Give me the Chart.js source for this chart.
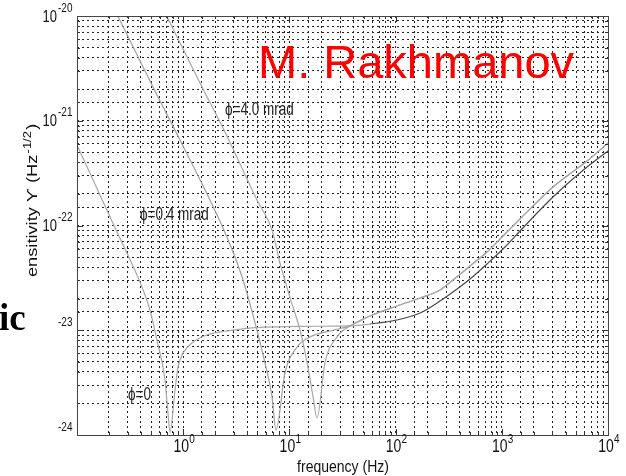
<!DOCTYPE html>
<html><head><meta charset="utf-8">
<script src="https://cdn.jsdelivr.net/npm/chart.js@4/dist/chart.umd.min.js"></script>
<style>html,body{margin:0;padding:0;background:#fff;overflow:hidden}</style>
</head><body>
<canvas id="c" width="626" height="476"></canvas>
<script>
// ---- data (frequency in Hz, sensitivity in Hz^-1/2) ----
const freqPhi0 = [0.1, 0.233, 0.409, 0.486, 0.566, 0.674, 0.719, 0.751, 0.838, 0.894, 1.0, 1.24, 1.67, 2.58, 4.25, 12.6, 37.2, 57.4, 103, 170, 262, 347, 502, 725, 1072, 1484, 3034, 6343, 10000];
const valPhi0  = [5.86e-22, 9.06e-23, 2.59e-23, 1.56e-23, 8.07e-24, 3.35e-24, 1.62e-24, 1.07e-24, 2.69e-24, 4.46e-24, 6.07e-24, 7.73e-24, 9.01e-24, 9.84e-24, 1.05e-23, 1.09e-23, 1.10e-23, 1.147e-23, 1.253e-23, 1.461e-23, 1.902e-23, 2.318e-23, 3.085e-23, 4.29e-23, 6.23e-23, 8.86e-23, 1.871e-22, 3.618e-22, 5.143e-22];

const freqPhi04 = [0.196, 0.542, 0.933, 2.58, 3.66, 4.95, 5.89, 6.86, 7.48, 9.09, 11.8, 15.6, 25.7, 37.2, 57.4, 103, 170, 262, 347, 502, 725, 1072, 1484, 3034, 6343, 10000];
const valPhi04  = [1.55e-20, 1.92e-21, 6.55e-22, 7.76e-23, 3.02e-23, 1.00e-23, 4.86e-24, 2.31e-24, 1.12e-24, 3.91e-24, 6.92e-24, 8.63e-24, 1.00e-23, 1.10e-23, 1.368e-23, 1.704e-23, 2.032e-23, 2.422e-23, 3.018e-23, 4.105e-23, 5.585e-23, 8.30e-23, 1.153e-22, 2.33e-22, 4.127e-22, 6.13e-22];

const freqPhi4 = [0.566, 1.44, 2.58, 4.95, 6.86, 8.15, 10.1, 12.6, 14.7, 16.7, 18.2, 21.6, 28.1, 37.2, 57.4, 103, 170, 262, 347, 502, 725, 1072, 1484, 3034, 6343, 10000];
const valPhi4  = [1.55e-20, 2.29e-21, 7.15e-22, 1.75e-22, 9.06e-23, 4.39e-23, 2.07e-23, 1.00e-23, 4.86e-24, 2.31e-24, 1.45e-24, 4.86e-24, 8.63e-24, 1.10e-23, 1.368e-23, 1.704e-23, 2.032e-23, 2.422e-23, 3.018e-23, 4.105e-23, 5.585e-23, 8.30e-23, 1.153e-22, 2.33e-22, 4.127e-22, 6.13e-22];

const xDecades = [1, 10, 100, 1000, 10000];
const xDecadeExp = ['0', '1', '2', '3', '4'];
const yDecades = [1e-20, 1e-21, 1e-22, 1e-23, 1e-24];
const yDecadeExp = ['-20', '-21', '-22', '-23', '-24'];
const yShowBase = [true, true, true, false, false];

const curveLabels = ['\u03D5=4.0 mrad', '\u03D5=0.4 mrad', '\u03D5=0'];
const curveLabelX = [2.48, 0.392, 0.302];
const curveLabelY = [1.27e-21, 1.26e-22, 2.41e-24];

const xTitle = 'frequency (Hz)';
const yTitleMain = 'ensitivity \u03D2 (Hz';
const yTitleSup = '-1/2';
const authorText = 'M. Rakhmanov';
const sideText = 'ic';

const pts = (fs, vs) => fs.map((f, i) => ({x: f, y: vs[i]}));

function isDecade(v) {
  const l = Math.log10(v);
  return Math.abs(l - Math.round(l)) < 1e-6;
}

function txt(ctx, s, x, y, font, opts) {
  opts = opts || {};
  ctx.save();
  ctx.translate(x, y);
  if (opts.rot) ctx.rotate(opts.rot);
  ctx.scale(opts.sx || 1, opts.sy || 1);
  ctx.font = font;
  ctx.textAlign = opts.align || 'left';
  ctx.textBaseline = opts.base || 'middle';
  ctx.fillStyle = opts.color || '#111';
  ctx.fillText(s, 0, 0);
  const w = ctx.measureText(s).width * (opts.sx || 1);
  ctx.restore();
  return w;
}

const SY = 1.3;
const FF = '"Liberation Sans", Arial, sans-serif';

const decor = {
  id: 'decor',
  afterDraw(chart) {
    const {ctx, chartArea: a, scales: {x, y}} = chart;
    ctx.save();
    // inner tick marks
    ctx.strokeStyle = '#333';
    ctx.lineWidth = 1;
    ctx.setLineDash([]);
    ctx.beginPath();
    x.ticks.forEach(t => {
      const px = Math.round(x.getPixelForValue(t.value)) + 0.5;
      const L = isDecade(t.value) ? 6 : 3;
      ctx.moveTo(px, a.bottom); ctx.lineTo(px, a.bottom - L);
      ctx.moveTo(px, a.top); ctx.lineTo(px, a.top + L);
    });
    y.ticks.forEach(t => {
      const py = Math.round(y.getPixelForValue(t.value)) + 0.5;
      const L = isDecade(t.value) ? 6 : 3;
      ctx.moveTo(a.left, py); ctx.lineTo(a.left + L, py);
      ctx.moveTo(a.right, py); ctx.lineTo(a.right - L, py);
    });
    ctx.stroke();
    // box
    ctx.strokeStyle = '#444';
    ctx.strokeRect(Math.round(a.left) + 0.5, Math.round(a.top) + 0.5, Math.round(a.right - a.left), Math.round(a.bottom - a.top));

    // x tick labels
    xDecades.forEach((v, i) => {
      const px = x.getPixelForValue(v);
      txt(ctx, '10', px - 2, 447, '14px ' + FF, {align: 'center', sy: SY});
      txt(ctx, xDecadeExp[i], px + 6, 439, '10px ' + FF, {sy: SY});
    });
    // y tick labels
    yDecades.forEach((v, i) => {
      const py = y.getPixelForValue(v);
      if (yShowBase[i]) txt(ctx, '10', 57, py + 1, '13px ' + FF, {align: 'right', sy: SY});
      txt(ctx, yDecadeExp[i], 58, py - 8, '10px ' + FF, {sy: SY});
    });
    // axis titles
    txt(ctx, xTitle, 343, 467, '14px ' + FF, {align: 'center', sy: 1.2});
    ctx.save();
    ctx.translate(33, 277);
    ctx.rotate(-Math.PI / 2);
    ctx.scale(SY, 1);
    ctx.font = '14px ' + FF;
    ctx.fillStyle = '#111';
    ctx.textBaseline = 'middle';
    ctx.textAlign = 'left';
    ctx.fillText(yTitleMain, 0, 0);
    let w = ctx.measureText(yTitleMain).width;
    ctx.font = '10px ' + FF;
    ctx.fillText(yTitleSup, w + 1, -5);
    w += 1 + ctx.measureText(yTitleSup).width;
    ctx.font = '14px ' + FF;
    ctx.fillText(')', w + 1, 0);
    ctx.restore();

    // curve labels
    curveLabels.forEach((s, i) => {
      txt(ctx, s, x.getPixelForValue(curveLabelX[i]), y.getPixelForValue(curveLabelY[i]), '13.5px ' + FF, {sy: SY, color: '#222'});
    });

    // overlay texts
    txt(ctx, authorText, 258, 78, '47px ' + FF, {base: 'alphabetic', color: '#ff0000'});
    txt(ctx, sideText, -1, 330, 'bold 37px "Liberation Serif", "Times New Roman", serif', {base: 'alphabetic', color: '#000'});
    ctx.restore();
  }
};

const gridCfg = {color: '#222', lineWidth: 1, drawTicks: false};
const borderCfg = {display: false, dash: [2, 3]};

new Chart(document.getElementById('c'), {
  type: 'line',
  data: {
    datasets: [
      {label: curveLabels[0], data: pts(freqPhi4, valPhi4), borderColor: '#a8a8a8'},
      {label: curveLabels[1], data: pts(freqPhi04, valPhi04), borderColor: '#a0a0a0'},
      {label: curveLabels[2], data: pts(freqPhi0, valPhi0), borderColor: '#a8a8a8',
       segment: {borderColor: c => c.p0.parsed.x >= 40 ? '#4a4a4a' : undefined}}
    ]
  },
  options: {
    responsive: false,
    animation: false,
    devicePixelRatio: 1,
    layout: {padding: {left: 77, top: 16, right: 18, bottom: 41}},
    plugins: {legend: {display: false}, tooltip: {enabled: false}},
    elements: {point: {radius: 0}, line: {borderWidth: 1.2, cubicInterpolationMode: 'monotone'}},
    datasets: {line: {clip: 0}},
    scales: {
      x: {type: 'logarithmic', min: 0.1, max: 10000, ticks: {display: false}, grid: gridCfg, border: borderCfg},
      y: {type: 'logarithmic', min: 1e-24, max: 1e-20, ticks: {display: false}, grid: gridCfg, border: borderCfg}
    }
  },
  plugins: [decor]
});
</script>
</body></html>
